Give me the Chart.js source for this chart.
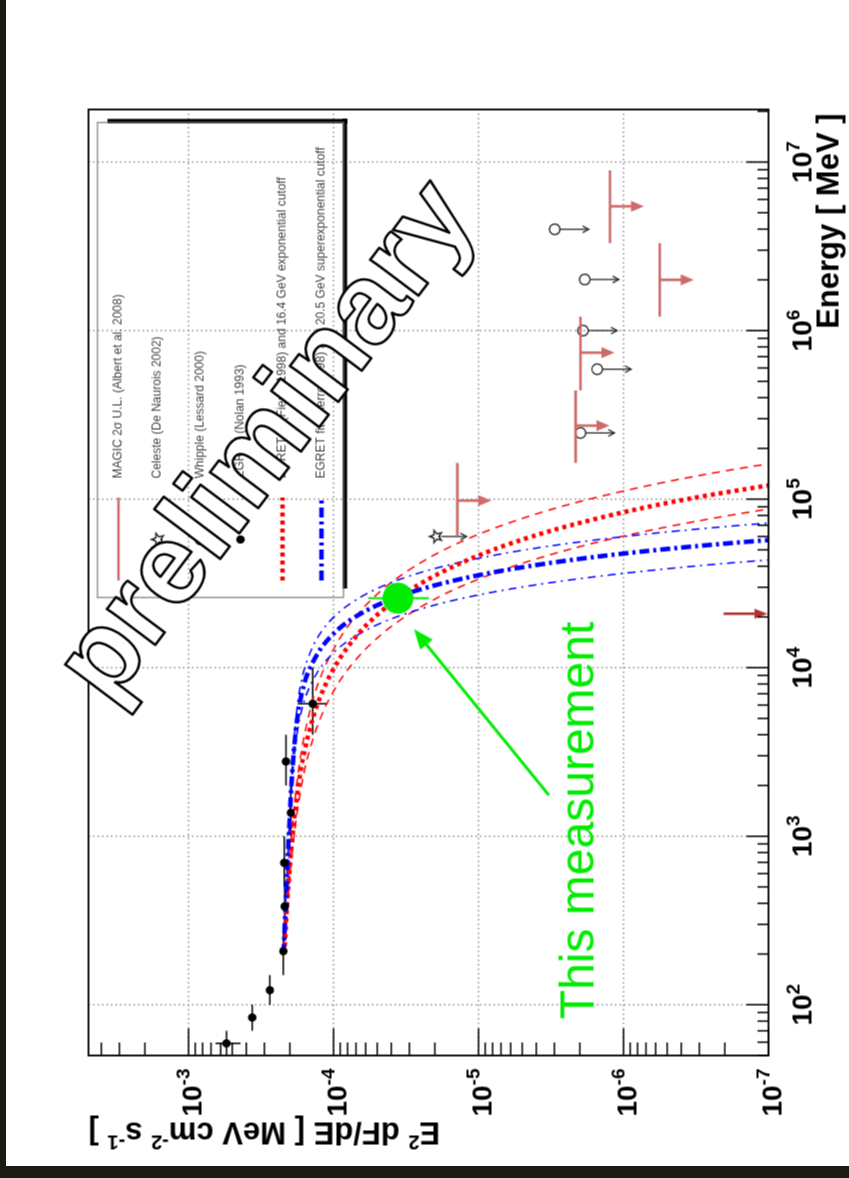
<!DOCTYPE html>
<html><head><meta charset="utf-8">
<script src="https://cdn.jsdelivr.net/npm/chart.js@4.4.1/dist/chart.umd.min.js"></script>
<style>
html,body{margin:0;padding:0;background:#1d1915;width:849px;height:1178px;overflow:hidden;}
#page{position:absolute;left:6px;top:0;width:843px;height:1166px;background:#fff;}
#wrap{position:absolute;left:-164.5px;top:164.5px;width:1178px;height:849px;transform:rotate(-90deg);transform-origin:50% 50%;}
canvas{display:block;}
</style></head><body>
<div id="page"></div>
<div id="wrap"><canvas id="c" width="1178" height="849"></canvas></div>
<script>
// ---------------- data (energy in MeV, flux E^2 dF/dE in MeV cm^-2 s^-1) ----------------
const energyTicks   = [1e2, 1e3, 1e4, 1e5, 1e6, 1e7];
const energyTickExp = ['2', '3', '4', '5', '6', '7'];
const fluxTicks     = [1e-3, 1e-4, 1e-5, 1e-6, 1e-7];
const fluxTickExp   = ['-3', '-4', '-5', '-6', '-7'];

// EGRET (Nolan 1993)
const egretE   = [59, 84, 122, 208, 383, 695, 1377, 2775, 6107];
const egretELo = [50, 70, 100, 150, 300, 500, 1000, 2000, 4000];
const egretEHi = [70, 100, 150, 300, 500, 1000, 2000, 4000, 10000];
const egretF   = [5.47e-4, 3.64e-4, 2.75e-4, 2.22e-4, 2.17e-4, 2.19e-4, 1.97e-4, 2.13e-4, 1.39e-4];
const egretFLo = [4.38e-4, 3.45e-4, 2.62e-4, 2.10e-4, 2.06e-4, 2.08e-4, 1.87e-4, 2.02e-4, 1.10e-4];
const egretFHi = [6.52e-4, 3.84e-4, 2.89e-4, 2.34e-4, 2.28e-4, 2.30e-4, 2.07e-4, 2.24e-4, 1.77e-4];

// MAGIC 2 sigma upper limits
const magicE   = [9.8e4, 2.73e5, 7.4e5, 2.0e6, 5.46e6];
const magicELo = [6.1e4, 1.64e5, 4.42e5, 1.21e6, 3.3e6];
const magicEHi = [1.64e5, 4.42e5, 1.21e6, 3.3e6, 8.93e6];
const magicF   = [1.40e-5, 2.14e-6, 1.98e-6, 5.62e-7, 1.24e-6];

// Celeste and Whipple upper limits
const celesteE = [6.0e4];
const celesteF = [1.98e-5];
const whippleE = [2.47e5, 5.9e5, 1.0e6, 2.01e6, 3.99e6];
const whippleF = [1.98e-6, 1.52e-6, 1.90e-6, 1.85e-6, 2.98e-6];

// threshold arrow
const threshE = [2.09e4];
const threshF = [2.04e-7];

// this measurement
const thisE   = [25850];
const thisF   = [3.60e-5];
const thisFLo = [2.20e-5];
const thisFHi = [5.77e-5];

// model curves
const redE    = [200, 500, 1000, 2000, 3000, 5000, 7000, 10000, 15000, 20000, 25000, 30000, 40000, 50000, 60000, 70000, 85000, 100000, 125000, 150000, 170000];
const redMid  = [2.188e-4, 2.051e-4, 1.919e-4, 1.746e-4, 1.611e-4, 1.390e-4, 1.211e-4, 9.89e-5, 7.14e-5, 5.19e-5, 3.78e-5, 2.77e-5, 1.48e-5, 7.96e-6, 4.29e-6, 2.31e-6, 9.18e-7, 3.65e-7, 7.85e-8];
const redHigh = [2.193e-4, 2.065e-4, 1.950e-4, 1.799e-4, 1.687e-4, 1.500e-4, 1.349e-4, 1.156e-4, 9.02e-5, 7.08e-5, 5.57e-5, 4.41e-5, 2.75e-5, 1.73e-5, 1.09e-5, 6.85e-6, 3.44e-6, 1.72e-6, 5.46e-7, 1.74e-7, 6.97e-8];
const redLow  = [2.178e-4, 2.028e-4, 1.875e-4, 1.663e-4, 1.500e-4, 1.233e-4, 1.023e-4, 7.80e-5, 5.00e-5, 3.23e-5, 2.09e-5, 1.36e-5, 5.73e-6, 2.43e-6, 1.03e-6, 4.39e-7, 1.22e-7, 3.39e-8];

const blueMidE  = [200, 500, 1000, 2000, 3000, 5000, 7000, 10000, 15000, 20000, 25000, 30000, 35000, 40000, 45000, 50000, 55000, 60000];
const blueMid   = [2.213e-4, 2.113e-4, 2.037e-4, 1.954e-4, 1.892e-4, 1.778e-4, 1.660e-4, 1.449e-4, 1.069e-4, 7.10e-5, 4.21e-5, 2.24e-5, 1.06e-5, 4.51e-6, 1.71e-6, 5.79e-7, 1.75e-7, 4.74e-8];
const blueHighE = [200, 500, 1000, 2000, 3000, 5000, 7000, 10000, 15000, 20000, 25000, 30000, 35000, 40000, 45000, 50000, 55000, 60000, 65000, 70000, 75000];
const blueHigh  = [2.213e-4, 2.113e-4, 2.037e-4, 1.959e-4, 1.905e-4, 1.816e-4, 1.730e-4, 1.578e-4, 1.294e-4, 9.95e-5, 7.13e-5, 4.78e-5, 2.99e-5, 1.74e-5, 9.44e-6, 4.78e-6, 2.25e-6, 9.89e-7, 4.05e-7, 1.54e-7, 5.47e-8];
const blueLowE  = [200, 500, 1000, 2000, 3000, 5000, 7000, 10000, 13000, 15000, 18000, 20000, 23000, 26000, 30000, 34000, 38000, 42000, 46000];
const blueLow   = [2.213e-4, 2.113e-4, 2.032e-4, 1.941e-4, 1.866e-4, 1.710e-4, 1.531e-4, 1.230e-4, 9.29e-5, 7.40e-5, 4.99e-5, 3.68e-5, 2.21e-5, 1.24e-5, 5.12e-6, 1.87e-6, 6.05e-7, 1.72e-7, 4.34e-8];

const legendLabels = [
  'MAGIC 2\u03c3 U.L. (Albert et al. 2008)',
  'Celeste (De Naurois 2002)',
  'Whipple (Lessard 2000)',
  'EGRET (Nolan 1993)',
  'EGRET fit (Fierro 1998) and 16.4 GeV exponential cutoff',
  'EGRET fit (Fierro 1998) and 20.5 GeV superexponential cutoff'
];

// ---------------- styles ----------------
const FONT = '"Liberation Sans", Arial, Helvetica, sans-serif';
const PINK = '#cd6a6a';
const GREEN = '#00ec00';
const RED = '#ff0000', BLUE = '#0000ff';
const dashRedThick = [4, 4], dashRedThin = [8, 6];
const dashBlueThick = [10, 4, 3, 4], dashBlueThin = [8, 5, 2, 5];

function zip(xs, ys) { const n = Math.min(xs.length, ys.length); const o = []; for (let i = 0; i < n; i++) o.push({x: xs[i], y: ys[i]}); return o; }

function makeStar(r, lw, color) {
  const s = Math.ceil(2 * r + 2 * lw + 2);
  const c = document.createElement('canvas'); c.width = s; c.height = s;
  const g = c.getContext('2d'); g.translate(s / 2, s / 2 + 0.5);
  g.beginPath();
  for (let i = 0; i < 10; i++) {
    const a = -Math.PI / 2 + i * Math.PI / 5; const rr = (i % 2) ? r * 0.42 : r;
    g.lineTo(rr * Math.cos(a), rr * Math.sin(a));
  }
  g.closePath(); g.strokeStyle = color; g.lineWidth = lw; g.stroke();
  return c;
}
const starImg = makeStar(6.5, 1.4, '#222');

function curve(label, xs, ys, color, width, dash, order) {
  return {label, data: zip(xs, ys), showLine: true, borderColor: color, backgroundColor: color,
    borderWidth: width, borderDash: dash, pointRadius: 0, pointHoverRadius: 0,
    cubicInterpolationMode: 'monotone', clip: 0, order};
}

const datasets = [
  {label: 'This measurement', data: zip(thisE, thisF), pointRadius: 15.5, backgroundColor: GREEN, borderWidth: 0, order: 0},
  {label: 'EGRET', data: zip(egretE, egretF), pointRadius: 4.2, backgroundColor: '#000', borderWidth: 0, order: 1},
  {label: 'Whipple', data: zip(whippleE, whippleF), pointRadius: 5.3, backgroundColor: 'rgba(0,0,0,0)', borderColor: '#2a2a2a', borderWidth: 1.4, order: 2},
  {label: 'Celeste', data: zip(celesteE, celesteF), pointStyle: starImg, pointRadius: 7, order: 3},
  {label: 'MAGIC', data: zip(magicE, magicF), pointRadius: 0, order: 4},
  {label: 'threshold', data: zip(threshE, threshF), pointRadius: 0, order: 5},
  curve('blueMid', blueMidE, blueMid, BLUE, 4.5, dashBlueThick, 6),
  curve('redMid', redE, redMid, RED, 4.5, dashRedThick, 7),
  curve('blueHigh', blueHighE, blueHigh, BLUE, 1.5, dashBlueThin, 8),
  curve('blueLow', blueLowE, blueLow, BLUE, 1.5, dashBlueThin, 9),
  curve('redHigh', redE, redHigh, RED, 1.5, dashRedThin, 10),
  curve('redLow', redE, redLow, RED, 1.5, dashRedThin, 11)
];

// ---------------- drawing helpers ----------------
function line(ctx, x1, y1, x2, y2) { ctx.beginPath(); ctx.moveTo(x1, y1); ctx.lineTo(x2, y2); ctx.stroke(); }
function arrow(ctx, x1, y1, x2, y2, hl, hw, filled, color, lw) {
  const a = Math.atan2(y2 - y1, x2 - x1), c = Math.cos(a), s = Math.sin(a);
  ctx.save(); ctx.setLineDash([]); ctx.strokeStyle = color; ctx.fillStyle = color; ctx.lineWidth = lw; ctx.lineCap = 'butt';
  if (filled) {
    const bx = x2 - hl * c, by = y2 - hl * s;
    line(ctx, x1, y1, bx + c, by + s);
    ctx.beginPath(); ctx.moveTo(x2, y2); ctx.lineTo(bx - hw * s, by + hw * c); ctx.lineTo(bx + hw * s, by - hw * c); ctx.closePath(); ctx.fill();
  } else {
    line(ctx, x1, y1, x2, y2);
    const t = 0.5;
    ctx.beginPath();
    ctx.moveTo(x2 - hl * Math.cos(a - t), y2 - hl * Math.sin(a - t)); ctx.lineTo(x2, y2);
    ctx.lineTo(x2 - hl * Math.cos(a + t), y2 - hl * Math.sin(a + t)); ctx.stroke();
  }
  ctx.restore();
}
function richText(ctx, segs, x, y, align) {
  let w = 0; segs.forEach(s => { ctx.font = s[1]; w += ctx.measureText(s[0]).width; });
  let cx = align === 'right' ? x - w : (align === 'center' ? x - w / 2 : x);
  ctx.textAlign = 'left'; ctx.textBaseline = 'alphabetic';
  segs.forEach(s => { ctx.font = s[1]; ctx.fillText(s[0], cx, y - s[2]); cx += ctx.measureText(s[0]).width; });
}
function minorTicks(min, max) {
  const out = [];
  for (let d = Math.pow(10, Math.floor(Math.log10(min))); d <= max; d *= 10)
    for (let k = 1; k <= 9; k++) { const v = k * d; if (v >= min * 0.999 && v <= max * 1.001) out.push({v, major: k === 1}); }
  return out;
}

const deco = {
  id: 'deco',
  beforeDatasetsDraw(chart) {
    const {ctx, chartArea: a, scales: {x, y}} = chart;
    ctx.save();
    ctx.strokeStyle = '#8a8a8a'; ctx.lineWidth = 1.4; ctx.setLineDash([1.4, 3.1]);
    energyTicks.forEach(v => { const p = x.getPixelForValue(v); if (p > a.left + 1 && p < a.right - 1) line(ctx, p, a.top, p, a.bottom); });
    fluxTicks.forEach(v => { const p = y.getPixelForValue(v); if (p > a.top + 1 && p < a.bottom - 1) line(ctx, a.left, p, a.right, p); });
    ctx.setLineDash([]);
    // EGRET error bars
    ctx.strokeStyle = '#000'; ctx.lineWidth = 1.5;
    const me = chart.getDatasetMeta(1).data;
    me.forEach((pt, i) => {
      line(ctx, x.getPixelForValue(egretELo[i]), pt.y, x.getPixelForValue(egretEHi[i]), pt.y);
      line(ctx, pt.x, y.getPixelForValue(egretFLo[i]), pt.x, y.getPixelForValue(egretFHi[i]));
    });
    // this measurement error bar
    ctx.strokeStyle = GREEN; ctx.lineWidth = 2;
    chart.getDatasetMeta(0).data.forEach((pt, i) => line(ctx, pt.x, y.getPixelForValue(thisFLo[i]), pt.x, y.getPixelForValue(thisFHi[i])));
    ctx.restore();
  },
  afterDatasetsDraw(chart) {
    const {ctx, scales: {x, y}, chartArea: a} = chart;
    ctx.save();
    // MAGIC upper limits
    chart.getDatasetMeta(4).data.forEach((pt, i) => {
      ctx.strokeStyle = PINK; ctx.lineWidth = 2.6; ctx.setLineDash([]);
      line(ctx, x.getPixelForValue(magicELo[i]), pt.y, x.getPixelForValue(magicEHi[i]), pt.y);
      arrow(ctx, pt.x, pt.y, pt.x, pt.y + 34, 13, 5.5, true, PINK, 2.6);
    });
    // Whipple / Celeste arrows
    chart.getDatasetMeta(2).data.forEach(pt => arrow(ctx, pt.x, pt.y + 5.5, pt.x, pt.y + 34, 7, 0, false, '#2a2a2a', 1.3));
    chart.getDatasetMeta(3).data.forEach(pt => arrow(ctx, pt.x, pt.y + 6, pt.x, pt.y + 31, 7, 0, false, '#2a2a2a', 1.3));
    // threshold arrow
    chart.getDatasetMeta(5).data.forEach(pt => arrow(ctx, pt.x, pt.y, pt.x, a.bottom - 1, 13, 5, true, '#b03232', 2.6));
    ctx.restore();
  },
  afterDraw(chart) {
    const {ctx, chartArea: a, scales: {x, y}} = chart;
    ctx.save();
    // frame
    ctx.strokeStyle = '#000'; ctx.lineWidth = 1.8; ctx.setLineDash([]);
    ctx.strokeRect(a.left, a.top, a.right - a.left, a.bottom - a.top);
    // ticks
    ctx.lineWidth = 1.5;
    minorTicks(x.min, x.max).forEach(t => { const p = x.getPixelForValue(t.v); line(ctx, p, a.bottom, p, a.bottom - (t.major ? 22 : 11)); });
    minorTicks(y.min, y.max).forEach(t => { const p = y.getPixelForValue(t.v); line(ctx, a.left, p, a.left + (t.major ? 27 : 13), p); });
    // tick labels
    ctx.fillStyle = '#000';
    const bf = 'bold 28px ' + FONT, ef = 'bold 19px ' + FONT;
    energyTicks.forEach((v, i) => richText(ctx, [['10', bf, 0], [energyTickExp[i], ef, 12]], x.getPixelForValue(v), a.bottom + 43, 'center'));
    fluxTicks.forEach((v, i) => richText(ctx, [['10', bf, 0], [fluxTickExp[i], ef, 12]], a.left - 13, y.getPixelForValue(v) + 12.8, 'right'));
    // axis titles
    const tf = 'bold 31px ' + FONT, sf = 'bold 20px ' + FONT;
    richText(ctx, [['Energy [ MeV ]', tf, 0]], a.right - 4, a.bottom + 70, 'right');
    ctx.save(); ctx.translate(56, 0); ctx.rotate(-Math.PI / 2);
    richText(ctx, [['E', tf, 0], ['2', sf, 13], [' dF/dE [ MeV cm', tf, 0], ['-2', sf, 13], [' s', tf, 0], ['-1', sf, 13], [' ]', tf, 0]], -a.top, 0, 'right');
    ctx.restore();

    // legend (ROOT style box with shadow)
    ctx.fillStyle = '#000';
    ctx.fillRect(1055, 107, 4.6, 240);
    ctx.fillRect(590, 342, 470, 4.6);
    ctx.strokeStyle = '#7c7c7c'; ctx.lineWidth = 1.2; ctx.strokeRect(581, 97, 475, 246);
    const rows = [118, 157, 200, 240, 282, 321], mx = 639, lx1 = 598, lx2 = 681;
    ctx.strokeStyle = PINK; ctx.lineWidth = 2.6; line(ctx, lx1, rows[0], lx2, rows[0]);
    ctx.drawImage(starImg, mx - starImg.width / 2, rows[1] - starImg.height / 2);
    ctx.strokeStyle = '#2a2a2a'; ctx.lineWidth = 1.4; ctx.beginPath(); ctx.arc(mx, rows[2], 5.3, 0, Math.PI * 2); ctx.stroke();
    ctx.fillStyle = '#000'; ctx.beginPath(); ctx.arc(mx, rows[3], 4.2, 0, Math.PI * 2); ctx.fill();
    ctx.strokeStyle = RED; ctx.lineWidth = 4.5; ctx.setLineDash(dashRedThick); line(ctx, lx1, rows[4], lx2, rows[4]);
    ctx.strokeStyle = BLUE; ctx.setLineDash(dashBlueThick); line(ctx, lx1, rows[5], lx2, rows[5]);
    ctx.setLineDash([]);
    ctx.fillStyle = '#444'; ctx.font = '12px ' + FONT; ctx.textAlign = 'left'; ctx.textBaseline = 'middle';
    legendLabels.forEach((t, i) => ctx.fillText(t, 700, rows[i]));

    // "preliminary" watermark
    ctx.save();
    ctx.translate(736, 268); ctx.rotate(37 * Math.PI / 180);
    ctx.font = 'bold 114px ' + FONT; ctx.textAlign = 'center'; ctx.textBaseline = 'middle';
    ctx.fillStyle = '#fff'; ctx.fillText('preliminary', 0, 0);
    ctx.strokeStyle = '#000'; ctx.lineWidth = 2.5; ctx.lineJoin = 'round'; ctx.strokeText('preliminary', 0, 0);
    ctx.restore();

    // annotation for this measurement
    const p = chart.getDatasetMeta(0).data[0];
    arrow(ctx, p.x - 197, p.y + 151, p.x - 31, p.y + 16, 20, 8, true, GREEN, 3);
    ctx.fillStyle = GREEN; ctx.font = '48px ' + FONT; ctx.textAlign = 'left'; ctx.textBaseline = 'alphabetic';
    ctx.fillText('This measurement', p.x - 421, p.y + 196);
    ctx.restore();
  }
};

new Chart(document.getElementById('c'), {
  type: 'scatter',
  data: {datasets},
  options: {
    responsive: false, animation: false, devicePixelRatio: 1, events: [],
    layout: {padding: {left: 123, right: 109, top: 88, bottom: 81}},
    scales: {
      x: {type: 'logarithmic', min: 50, max: 2.05e7, display: false},
      y: {type: 'logarithmic', min: 1e-7, max: 4.9e-3, display: false}
    },
    plugins: {legend: {display: false}, tooltip: {enabled: false}}
  },
  plugins: [deco]
});
</script>
</body></html>
